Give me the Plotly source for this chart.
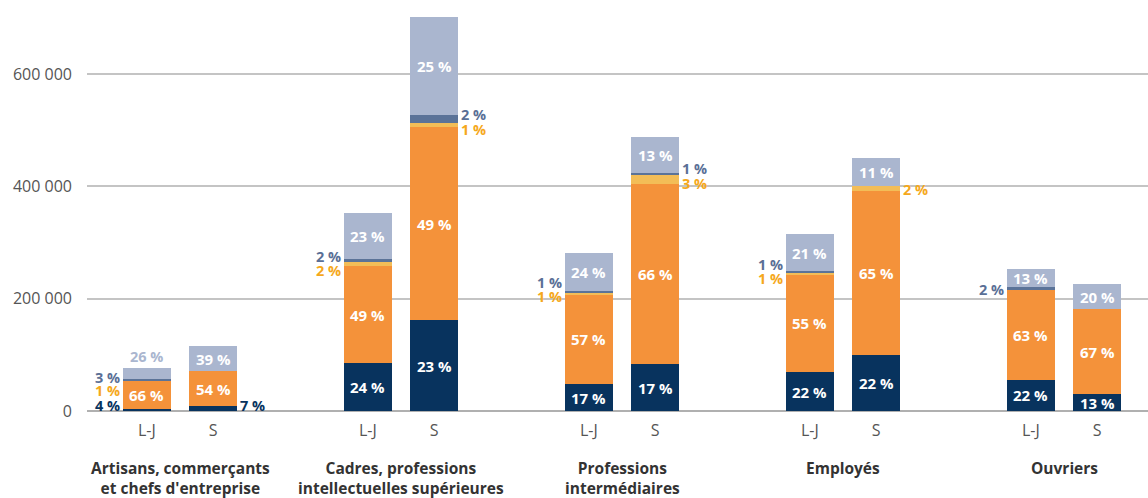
import plotly.graph_objects as go

# ---------------- data ----------------
groups = ["Artisans, commerçants<br>et chefs d'entreprise",
          "Cadres, professions<br>intellectuelles supérieures",
          "Professions<br>intermédiaires",
          "Employés",
          "Ouvriers"]
bar_kinds = ["L-J", "S"]

total_lj = [76500, 352600, 281400, 315200, 252900]
total_s = [115800, 701700, 488000, 450600, 226200]

series_names = ["Série 1", "Série 2", "Série 3", "Série 4", "Série 5"]

pct_lj_s1 = [4, 24, 17, 22, 22]
pct_lj_s2 = [66, 49, 57, 55, 63]
pct_lj_s3 = [1, 2, 1, 1, 0]
pct_lj_s4 = [3, 2, 1, 1, 2]
pct_lj_s5 = [26, 23, 24, 21, 13]

pct_s_s1 = [7, 23, 17, 22, 13]
pct_s_s2 = [54, 49, 66, 65, 67]
pct_s_s3 = [0, 1, 3, 2, 0]
pct_s_s4 = [0, 2, 1, 0, 0]
pct_s_s5 = [39, 25, 13, 11, 20]

y_tick_vals = [0, 200000, 400000, 600000]
y_tick_text = ["0", "200 000", "400 000", "600 000"]

# ---------------- style ----------------
bar_colors = ["#08335e", "#f4923a", "#f3bd57", "#5b7398", "#aab6cf"]
text_colors = ["#08335e", "#f4923a", "#f5a81c", "#5a6f96", "#aab6cf"]
FONT = "Open Sans"
OFFSET = 0.30   # distance between the two bars of a group (axis units)
BAR_W = 0.217

pct_lj = [pct_lj_s1, pct_lj_s2, pct_lj_s3, pct_lj_s4, pct_lj_s5]
pct_s = [pct_s_s1, pct_s_s2, pct_s_s3, pct_s_s4, pct_s_s5]
totals = [total_lj, total_s]
pcts = [pct_lj, pct_s]

n = len(groups)
xpos = []
kinds = []
for g in range(n):
    for b in range(2):
        xpos.append(g + (b - 0.5) * OFFSET)
        kinds.append(bar_kinds[b])

seg = []
for s in range(5):
    vals = []
    for g in range(n):
        for b in range(2):
            vals.append(totals[b][g] * pcts[b][s][g] / 100.0)
    seg.append(vals)

fig = go.Figure()
for s in range(5):
    fig.add_trace(go.Bar(
        x=xpos, y=seg[s], width=BAR_W, name=series_names[s],
        marker=dict(color=bar_colors[s], line=dict(width=0)),
        hoverinfo="skip", showlegend=False))

# label placement style: (group, bar, series) -> (side, yshift px)
outside = {
    (0, 0, 0): ("left", 5), (0, 0, 2): ("left", -10), (0, 0, 3): ("left", 2), (0, 0, 4): ("top", 17),
    (0, 1, 0): ("right", 3),
    (1, 0, 2): ("left", -6.5), (1, 0, 3): ("left", 3.5),
    (1, 1, 2): ("right", -4.7), (1, 1, 3): ("right", 4.4),
    (2, 0, 2): ("left", -3.7), (2, 0, 3): ("left", 8.7),
    (2, 1, 2): ("right", -4.5), (2, 1, 3): ("right", 5),
    (3, 0, 2): ("left", -5), (3, 0, 3): ("left", 8),
    (3, 1, 2): ("right", -1.5),
    (4, 0, 3): ("left", -1),
}

annotations = []
for g in range(n):
    for b in range(2):
        i = g * 2 + b
        cum = 0.0
        for s in range(5):
            v = seg[s][i]
            p = pcts[b][s][g]
            mid = cum + v / 2.0
            cum += v
            if p <= 0:
                continue
            label = f"{p} %"
            key = (g, b, s)
            if key in outside:
                side, ys = outside[key]
                a = dict(x=xpos[i], y=mid, xref="x", yref="y", text=label, showarrow=False,
                         font=dict(family=FONT, size=14.5, color=text_colors[s], weight="bold"),
                         yshift=ys, yanchor="middle", borderpad=0)
                if side == "left":
                    a.update(xanchor="right", xshift=-26)
                elif side == "right":
                    a.update(xanchor="left", xshift=26)
                else:
                    a.update(xanchor="center")
                annotations.append(a)
            else:
                annotations.append(dict(
                    x=xpos[i], y=mid, xref="x", yref="y", text=label, showarrow=False,
                    font=dict(family=FONT, size=15, color="white", weight="bold"),
                    xanchor="center", yanchor="middle", borderpad=0))

for g in range(n):
    annotations.append(dict(
        x=g, y=-0.11, xref="x", yref="paper", text=groups[g], showarrow=False,
        font=dict(family=FONT, size=15.5, color="#333333", weight="bold"),
        xanchor="center", yanchor="top", align="center"))

fig.update_layout(
    width=1148, height=498,
    margin=dict(l=87, r=0, t=7, b=87),
    barmode="stack",
    plot_bgcolor="white", paper_bgcolor="white",
    font=dict(family=FONT, color="#555555"),
    annotations=annotations,
    showlegend=False,
)
fig.update_xaxes(
    range=[-0.421, 4.380], tickvals=xpos, ticktext=kinds,
    showgrid=False, zeroline=False, showline=False,
    ticks="", ticklabelstandoff=8,
    tickfont=dict(family=FONT, size=16, color="#555555"),
)
fig.update_yaxes(
    range=[0, 719300], tickvals=y_tick_vals, ticktext=y_tick_text,
    showgrid=True, gridcolor="#c4c4c4", gridwidth=1.5,
    zeroline=True, zerolinecolor="#b0b0b0", zerolinewidth=1.5,
    showline=False, ticks="", ticklabelstandoff=14,
    tickfont=dict(family=FONT, size=16, color="#555555"),
)

fig.write_html("out.html", config={"displayModeBar": False},
               post_script="document.body.style.margin='0';")
